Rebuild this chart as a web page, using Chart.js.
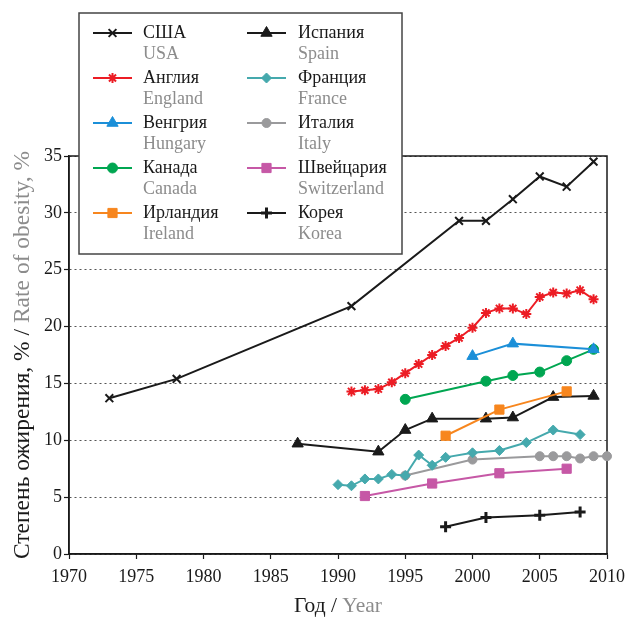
<!DOCTYPE html>
<html>
<head>
  <title>Obesity rate</title>
  <script src="https://cdn.jsdelivr.net/npm/chart.js"></script>
  <style>
    body { margin: 0; background: #fff; }
    #wrap { width: 626px; height: 617px; }
  </style>
</head>
<body>
  <div id="wrap"><canvas id="obesityChart" width="626" height="617"></canvas></div>
  <script>
    // values
    const usaYears = [1973, 1978, 1991, 1999, 2001, 2003, 2005, 2007, 2009];
    const usaValues = [13.7, 15.4, 21.8, 29.3, 29.3, 31.2, 33.2, 32.3, 34.5];
    const englandYears = [1991, 1992, 1993, 1994, 1995, 1996, 1997, 1998, 1999, 2000, 2001, 2002, 2003, 2004, 2005, 2006, 2007, 2008, 2009];
    const englandValues = [14.3, 14.4, 14.5, 15.1, 15.9, 16.7, 17.5, 18.3, 19.0, 19.9, 21.2, 21.6, 21.6, 21.1, 22.6, 23.0, 22.9, 23.2, 22.4];
    const hungaryYears = [2000, 2003, 2009];
    const hungaryValues = [17.4, 18.5, 18.0];
    const canadaYears = [1995, 2001, 2003, 2005, 2007, 2009];
    const canadaValues = [13.6, 15.2, 15.7, 16.0, 17.0, 18.0];
    const irelandYears = [1998, 2002, 2007];
    const irelandValues = [10.4, 12.7, 14.3];
    const spainYears = [1987, 1993, 1995, 1997, 2001, 2003, 2006, 2009];
    const spainValues = [9.7, 9.0, 10.9, 11.9, 11.9, 12.0, 13.8, 13.9];
    const franceYears = [1990, 1991, 1992, 1993, 1994, 1995, 1996, 1997, 1998, 2000, 2002, 2004, 2006, 2008];
    const franceValues = [6.1, 6.0, 6.6, 6.6, 7.0, 6.9, 8.7, 7.8, 8.5, 8.9, 9.1, 9.8, 10.9, 10.5];
    const italyYears = [1995, 2000, 2005, 2006, 2007, 2008, 2009, 2010];
    const italyValues = [6.9, 8.3, 8.6, 8.6, 8.6, 8.4, 8.6, 8.6];
    const swissYears = [1992, 1997, 2002, 2007];
    const swissValues = [5.1, 6.2, 7.1, 7.5];
    const koreaYears = [1998, 2001, 2005, 2008];
    const koreaValues = [2.4, 3.2, 3.4, 3.7];

    const namesRu = ['США', 'Англия', 'Венгрия', 'Канада', 'Ирландия', 'Испания', 'Франция', 'Италия', 'Швейцария', 'Корея'];
    const namesEn = ['USA', 'England', 'Hungary', 'Canada', 'Ireland', 'Spain', 'France', 'Italy', 'Switzerland', 'Korea'];
    const xTicks = [1970, 1975, 1980, 1985, 1990, 1995, 2000, 2005, 2010];
    const yTicks = [0, 5, 10, 15, 20, 25, 30, 35];

    const serif = "'Liberation Serif', 'DejaVu Serif', serif";

    function pts(xs, ys) {
      return xs.map((x, i) => ({ x: x, y: ys[i] }));
    }

    function series(idx, xs, ys, color, style, radius, bw) {
      return {
        label: namesRu[idx],
        data: pts(xs, ys),
        borderColor: color,
        backgroundColor: color,
        borderWidth: 2,
        pointStyle: style,
        pointRadius: radius,
        pointHoverRadius: radius,
        pointBorderWidth: bw,
        pointBorderColor: color,
        pointBackgroundColor: color,
        fill: false,
        clip: false,
        tension: 0
      };
    }

    const datasets = [
      series(0, usaYears, usaValues, '#1a1a1a', 'crossRot', 5.5, 2),
      series(1, englandYears, englandValues, '#ec1c24', 'star', 5, 2),
      series(2, hungaryYears, hungaryValues, '#1b8fd8', 'triangle', 6.5, 1),
      series(3, canadaYears, canadaValues, '#00a651', 'circle', 5, 1),
      series(4, irelandYears, irelandValues, '#f7861e', 'rect', 6.5, 1),
      series(5, spainYears, spainValues, '#1a1a1a', 'triangle', 6.5, 1),
      series(6, franceYears, franceValues, '#45a9ad', 'rectRot', 5, 1),
      series(7, italyYears, italyValues, '#9a9a9c', 'circle', 4.5, 1),
      series(8, swissYears, swissValues, '#c658a6', 'rect', 6.5, 1),
      series(9, koreaYears, koreaValues, '#1a1a1a', 'cross', 5.5, 3)
    ];
    // keep France above Italy
    datasets[6].order = 1;
    datasets[7].order = 2;

    function drawMarker(ctx, ds, x, y) {
      const opts = {
        pointStyle: ds.pointStyle,
        radius: ds.pointRadius,
        borderWidth: ds.pointBorderWidth,
        rotation: 0
      };
      ctx.save();
      ctx.fillStyle = ds.pointBackgroundColor;
      ctx.strokeStyle = ds.pointBorderColor;
      ctx.lineWidth = ds.pointBorderWidth;
      if (Chart.helpers && Chart.helpers.drawPoint) {
        Chart.helpers.drawPoint(ctx, opts, x, y);
      } else {
        ctx.beginPath();
        ctx.arc(x, y, ds.pointRadius, 0, Math.PI * 2);
        ctx.fill();
      }
      ctx.restore();
    }

    const decorations = {
      id: 'decorations',
      beforeDatasetsDraw(chart) {
        // plot frame under the marks
        const ctx = chart.ctx;
        const a = chart.chartArea;
        ctx.save();
        ctx.strokeStyle = '#1a1a1a';
        ctx.lineWidth = 1.5;
        ctx.strokeRect(a.left, a.top, a.right - a.left, a.bottom - a.top);
        ctx.restore();
      },
      afterDraw(chart) {
        const ctx = chart.ctx;
        const a = chart.chartArea;
        ctx.save();

        // legend box
        ctx.fillStyle = '#ffffff';
        ctx.fillRect(79, 13, 323, 241);
        ctx.strokeStyle = '#444';
        ctx.lineWidth = 1.5;
        ctx.strokeRect(79, 13, 323, 241);

        ctx.font = '18px ' + serif;
        ctx.textBaseline = 'middle';
        ctx.textAlign = 'left';
        for (let i = 0; i < 10; i++) {
          const col = Math.floor(i / 5);
          const row = i % 5;
          const lx = col === 0 ? 93 : 247;
          const tx = col === 0 ? 143 : 298;
          const cy = 33 + row * 45;
          const ds = chart.data.datasets[i];
          ctx.strokeStyle = ds.borderColor;
          ctx.lineWidth = 2;
          ctx.beginPath();
          ctx.moveTo(lx, cy);
          ctx.lineTo(lx + 39, cy);
          ctx.stroke();
          drawMarker(ctx, ds, lx + 19.5, cy);
          ctx.fillStyle = '#1a1a1a';
          ctx.fillText(namesRu[i], tx, cy);
          ctx.fillStyle = '#8c8c8c';
          ctx.fillText(namesEn[i], tx, cy + 21);
        }

        // axis titles
        ctx.font = '21.5px ' + serif;
        ctx.textBaseline = 'middle';
        const xPart1 = 'Год / ';
        const xPart2 = 'Year';
        const w1 = ctx.measureText(xPart1).width;
        const w2 = ctx.measureText(xPart2).width;
        const cx = (a.left + a.right) / 2;
        const xy = 606;
        ctx.textAlign = 'left';
        ctx.fillStyle = '#1a1a1a';
        ctx.fillText(xPart1, cx - (w1 + w2) / 2, xy);
        ctx.fillStyle = '#8c8c8c';
        ctx.fillText(xPart2, cx - (w1 + w2) / 2 + w1, xy);

        ctx.font = '23.5px ' + serif;
        const yPart1 = 'Степень ожирения, % / ';
        const yPart2 = 'Rate of obesity, %';
        const v1 = ctx.measureText(yPart1).width;
        const v2 = ctx.measureText(yPart2).width;
        const cy = (a.top + a.bottom) / 2;
        ctx.translate(23, cy);
        ctx.rotate(-Math.PI / 2);
        ctx.fillStyle = '#1a1a1a';
        ctx.fillText(yPart1, -(v1 + v2) / 2, 0);
        ctx.fillStyle = '#8c8c8c';
        ctx.fillText(yPart2, -(v1 + v2) / 2 + v1, 0);
        ctx.restore();
      }
    };

    const ctx = document.getElementById('obesityChart').getContext('2d');
    const chart = new Chart(ctx, {
      type: 'line',
      data: { datasets: datasets },
      options: {
        responsive: false,
        animation: false,
        events: [],
        layout: { padding: { left: 0, top: 156, right: 19, bottom: 0 } },
        plugins: {
          legend: { display: false },
          tooltip: { enabled: false }
        },
        scales: {
          x: {
            type: 'linear',
            min: 1970,
            max: 2010,
            afterBuildTicks: s => { s.ticks = xTicks.map(v => ({ value: v })); },
            afterFit: s => { s.height = 63; s.paddingLeft = 0; s.paddingRight = 0; },
            ticks: {
              color: '#1a1a1a',
              font: { family: serif, size: 18 },
              padding: 7,
              maxRotation: 0,
              callback: v => String(v)
            },
            grid: {
              drawOnChartArea: false,
              tickLength: 5,
              tickColor: '#1a1a1a',
              tickWidth: 1.2
            },
            border: { display: true, color: '#1a1a1a', width: 1.5 }
          },
          y: {
            min: 0,
            max: 35,
            afterBuildTicks: s => { s.ticks = yTicks.map(v => ({ value: v })); },
            afterFit: s => { s.width = 69; s.paddingTop = 0; s.paddingBottom = 0; },
            ticks: {
              color: '#1a1a1a',
              font: { family: serif, size: 18 },
              padding: 2,
              callback: v => String(v)
            },
            grid: {
              color: '#555',
              lineWidth: 1,
              tickLength: 5,
              tickColor: '#1a1a1a',
              tickWidth: 1.2,
              tickBorderDash: []
            },
            border: { display: true, color: '#1a1a1a', width: 1.5, dash: [2, 3] }
          }
        }
      },
      plugins: [decorations]
    });
  </script>
</body>
</html>
